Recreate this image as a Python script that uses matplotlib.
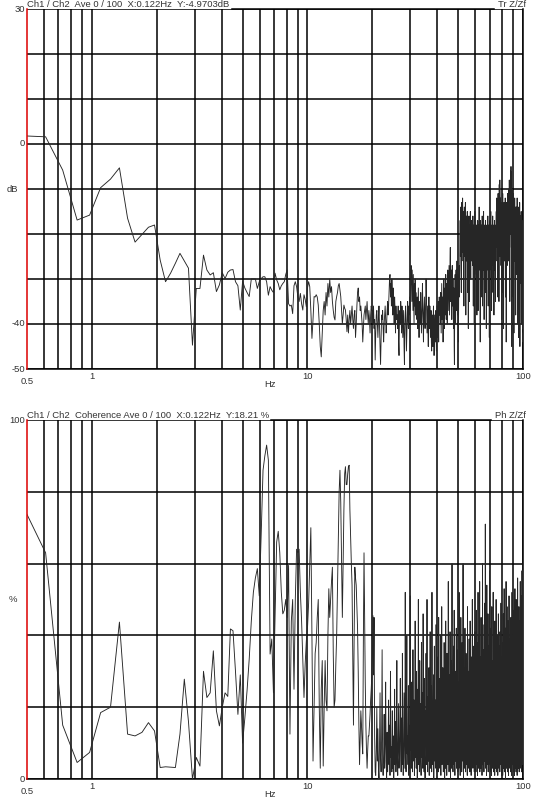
import numpy as np
import matplotlib.pyplot as plt
from matplotlib.ticker import FixedLocator

plt.rcParams['font.family'] = ['Liberation Sans', 'DejaVu Sans']

# analyser line spacing (Hz) and first line shown
df = 0.122
k_first = 4

# ---- transfer function Z/Zf, dB, one value per line ----
# lines 4..125 (0.49 - 15.3 Hz), read point by point
tr_db_low = [
    1.8, 1.6, -5.8, -16.9, -15.8, -9.7, -7.8, -5.3, -16.5, -21.8,
    -20.1, -18.5, -18, -25.8, -30.6, -28.7, -26.5, -24.3, -26, -27.6,
    -44.7, -32.1, -32.1, -24.7, -28, -29.1, -28.6, -32.8, -31.3, -28.6,
    -29.9, -28.5, -28, -27.9, -30.6, -31.5, -36.9, -30.5, -32, -33,
    -33.9, -30, -30, -30, -32.1, -30.6, -29.9, -29.5, -29.5, -30.6,
    -33.6, -31.7, -32.5, -33, -28.7, -30.2, -31, -32.4, -31.5, -31,
    -30.6, -29, -28, -35.5, -36, -35.8, -37.7, -31.5, -30.6, -31.7,
    -34, -35, -33.2, -35.5, -36.9, -33.5, -34.5, -36.2, -32, -30.6,
    -31.7, -37, -43.2, -39, -33.9, -34, -33.5, -34, -35.8, -40,
    -45, -47.3, -42, -37, -35, -38, -33, -36, -31, -34,
    -30, -33, -31.7, -35, -37, -38.5, -39.1, -35, -33.9, -33,
    -31.5, -31, -32.5, -33.9, -37, -39.9, -38, -35.8, -36.5, -36.9,
    -39, -41.7]
# 15 - 20 Hz
tr_db_15 = [-38, -42, -39, -37, -40, -38, -36, -39, -41, -38, -37, -43, -40, -36, -33, -32, -35, -34, -37, -36,
            -38, -40, -44, -41, -38, -37, -36, -39, -37, -35, -38, -40, -37, -39, -42, -38, -36, -37]
# 20 - 24 Hz
tr_db_20 = [-37, -40, -36, -41, -39, -48, -42, -38, -37, -40, -43, -39, -36, -41, -45, -49, -43, -38, -39, -37,
            -41, -44, -40, -38, -36, -39, -42, -40, -37, -35, -38, -36, -33]
# 24 - 26 Hz
tr_db_24 = [-30, -29, -34, -31, -36, -30, -33, -38, -32, -35, -40, -34, -37, -42, -36, -39, -38]
# 26 - 30 Hz
tr_db_26 = [-38, -41, -36, -44, -47, -39, -37, -40, -35, -38, -42, -36, -39, -43, -40, -37, -45, -49, -41, -38,
            -36, -40, -46, -42, -37, -35, -39, -41, -36, -38, -34, -37]
# 30 - 32 Hz
tr_db_30 = [-33, -30, -27, -31, -35, -28, -32, -37, -29, -34, -40, -31, -36, -30, -38, -33, -35]
# 32 - 41 Hz
tr_db_32 = [-36, -39, -34, -41, -37, -32, -38, -43, -36, -35, -40, -38, -33, -37, -42, -39, -36, -31, -35, -40,
            -44, -38, -36, -34, -39, -41, -37, -35, -30, -33, -38, -42, -39, -36, -40, -45, -37, -34, -38, -41,
            -36, -39, -43, -40, -37, -44, -46, -41, -38, -42, -45, -39, -36, -40, -47, -43, -38, -41, -44, -39,
            -37, -42, -46, -40, -36, -39, -43, -38, -35, -40, -44, -37, -34, -38]
# 41 - 51 Hz
tr_db_41 = [-38, -35, -40, -33, -37, -42, -36, -31, -35, -39, -34, -37, -44, -38, -33, -30, -36, -41, -35, -32,
            -38, -34, -29, -33, -39, -36, -31, -35, -40, -33, -28, -32, -37, -34, -30, -27, -33, -38, -31, -26,
            -23, -29, -35, -32, -28, -34, -39, -31, -27, -33, -36, -30, -35, -41, -37, -32, -45, -49, -38, -33,
            -29, -35, -40, -31, -28, -34, -37, -30, -26, -32, -38, -35, -29, -33, -44, -36, -30, -27, -34, -31, -28]
# 51 - 58 Hz
tr_db_51 = [-22, -17, -25, -19, -14, -21, -33, -18, -13, -20, -24, -16, -12, -19, -26, -21, -15, -23, -36, -18,
            -14, -22, -17, -25, -20, -13, -19, -38, -23, -16, -21, -26, -18, -24, -15, -20, -33, -22, -17, -41,
            -24, -19, -16, -23, -21, -35, -18, -25, -20, -15, -22, -30, -19, -24, -17, -21, -26, -23]
# 58 - 75 Hz
tr_db_58 = [-24, -19, -27, -21, -16, -23, -36, -20, -25, -18, -22, -40, -26, -19, -15, -24, -28, -21, -17, -25,
            -20, -29, -23, -18, -26, -38, -22, -19, -24, -17, -21, -27, -37, -23, -18, -25, -20, -14, -22, -28,
            -24, -19, -26, -44, -21, -17, -23, -29, -20, -25, -18, -22, -34, -24, -16, -21, -36, -26, -19, -23,
            -28, -20, -15, -24, -22, -39, -25, -18, -21, -27, -23, -19, -26, -17, -22, -33, -24, -20, -41, -25,
            -21, -18, -23, -28, -19, -25, -22, -16, -24, -36, -20, -26, -23, -18, -21, -27, -43, -24, -19, -22,
            -17, -25, -20, -28, -23, -15, -21, -26, -19, -24, -37, -22, -18, -25, -20, -27, -23, -16, -21, -33,
            -24, -19, -22, -26, -18, -38, -23, -20, -25, -17, -21, -28, -24, -19, -22, -35, -20, -23, -18]
# 75 - 93 Hz
tr_db_75 = [-20, -15, -23, -18, -12, -21, -26, -17, -14, -22, -19, -34, -16, -11, -20, -24, -18, -13, -21, -35,
            -17, -9, -15, -22, -19, -8, -14, -25, -20, -16, -12, -23, -18, -27, -15, -21, -13, -19, -39, -22,
            -16, -20, -14, -24, -18, -11, -17, -33, -21, -15, -19, -41, -23, -17, -13, -20, -26, -18, -22, -14,
            -19, -24, -16, -12, -21, -34, -17, -23, -15, -20, -44, -25, -18, -13, -22, -16, -19, -27, -14, -21,
            -17, -11, -23, -19, -15, -26, -20, -13, -18, -24, -10, -16, -22, -8, -14, -21, -17, -35, -12, -19,
            -15, -9, -20, -6, -13, -18, -5, -11, -16, -23, -7, -14, -45, -19, -12, -25, -17, -10, -21, -15,
            -13, -22, -18, -34, -14, -20, -11, -24, -16, -42, -19, -13, -21, -17, -26, -12, -18, -23, -15, -20,
            -14, -22, -19, -38, -16, -21, -18, -24]
# 93 - 100 Hz
tr_db_93 = [-18, -24, -14, -21, -29, -17, -23, -12, -20, -27, -16, -25, -19, -40, -22, -15, -26, -20, -43, -18,
            -23, -14, -28, -21, -17, -30, -24, -19, -13, -22, -45, -25, -18, -27, -20, -16, -24, -31, -21, -26,
            -19, -15, -23, -28, -20, -40, -25, -18, -22, -29, -17, -24, -41, -21, -27, -33, -44, -42]

# ---- coherence, % ----
# lines 4..165 (0.49 - 20.1 Hz)
coh_low = [
    75, 63, 15, 4.6, 7.4, 18.5, 20, 43.7, 12.5, 12,
    13, 15.7, 13.4, 3.2, 3.4, 3.3, 3.2, 12.5, 27.8, 16,
    0, 6, 3.6, 30, 22.7, 24, 35.7, 19, 14.8, 20,
    24, 23, 41.8, 41.3, 30, 18, 29, 10, 17, 24.6,
    33.4, 44, 52, 56, 58.6, 51, 68, 86, 90, 93,
    88.8, 34.8, 39, 24, 45, 66, 69, 63, 52, 46,
    47, 50, 45, 59.5, 12.5, 44, 50, 25, 50, 64,
    63, 64, 52, 44, 33, 22.7, 32, 38.5, 42, 49,
    60, 70, 40, 5, 20, 35, 38, 45, 50, 20,
    3, 25, 33, 3.6, 20, 33, 22, 19, 40, 53,
    45, 50, 55, 59, 35, 20, 22, 32, 40, 53,
    65, 80, 86, 77, 60, 45, 60, 75, 85, 87,
    82, 82, 85, 87, 87.4, 75, 67, 60, 54, 35,
    15, 40, 59, 56, 54, 48, 42, 30, 15, 4,
    12, 19, 15, 10, 7, 40, 63, 45, 27, 15,
    8, 3, 8, 12, 12, 15, 18, 22, 25, 29, 35, 45.5]
coh_20 = [29, 45, 12, 2, 1, 8, 20, 5, 14, 3, 0, 9, 24, 6, 2, 11, 36, 4, 1, 7, 18, 3, 10, 27, 5, 0, 13, 2, 8, 22,
          4, 15, 1, 30, 6, 9, 2, 19, 3, 12, 0, 7, 25, 4, 16, 2, 9, 33, 5, 1, 11, 21, 3, 6, 14, 28, 8, 2, 17, 4,
          35, 10, 1, 6, 24, 13, 3, 52, 9, 2, 18, 40, 7, 12, 4, 26, 1, 15, 8, 3]
coh_30 = [51, 8, 19, 3, 27, 11, 2, 36, 14, 5, 22, 1, 9, 44, 6, 17, 3, 30, 12, 0, 25, 7, 50, 4, 15, 2, 33, 10, 21, 5,
          1, 38, 13, 6, 24, 3, 46, 9, 16, 2, 28, 7, 0, 19, 11, 35, 4, 14, 50, 8, 2, 23, 12, 5, 31, 1, 18, 9, 41, 3,
          26, 6, 15, 2, 52, 10, 20, 4, 13, 29, 0, 8, 37, 16, 5, 22, 11, 3, 43, 7, 17, 2]
coh_40 = [12, 34, 5, 21, 2, 45, 9, 17, 28, 3, 14, 40, 7, 1, 25, 11, 48, 4, 19, 6, 31, 13, 2, 22, 8, 38, 16, 0, 27, 10,
          3, 44, 15, 6, 20, 1, 35, 9, 24, 4, 13, 55, 7, 18, 2, 29, 11, 5, 41, 14, 0, 23, 8, 33, 3, 17, 60, 10, 26, 6,
          2, 19, 37, 12, 4, 47, 21, 9, 1, 30, 15, 5, 25, 8, 42, 3, 16, 11, 36, 7, 20, 2]
coh_50 = [8, 27, 14, 3, 52, 19, 6, 33, 11, 1, 24, 9, 45, 4, 16, 29, 2, 13, 38, 7, 21, 5, 60, 12, 0, 18, 31, 9, 3, 25,
          15, 42, 6, 20, 2, 11, 35, 8, 17, 4, 28, 13, 1, 48, 10, 23, 5, 30, 14, 3, 19, 39, 7, 26, 2, 12, 44, 9, 16, 6,
          22, 1, 34, 11, 4, 27, 15, 50, 8, 18, 3, 24, 10, 37, 5, 13, 29, 2, 21, 7, 41, 12]
coh_60 = [20, 6, 33, 14, 2, 47, 11, 25, 4, 38, 9, 17, 1, 29, 13, 52, 7, 22, 3, 40, 16, 5, 27, 10, 55, 2, 19, 34, 8, 14,
          24, 3, 45, 12, 6, 31, 18, 1, 26, 9, 60, 15, 4, 21, 36, 7, 11, 28, 2, 43, 17, 5, 30, 13, 49, 8, 71, 23, 3, 16,
          39, 10, 25, 1, 18, 54, 6, 14, 33, 4, 27, 12, 46, 2, 20, 9, 37, 15, 5, 24, 11, 58]
coh_70 = [9, 30, 4, 17, 42, 11, 2, 25, 7, 36, 14, 1, 21, 48, 6, 13, 28, 3, 19, 10, 33, 5, 52, 15, 8, 23, 2, 39, 12, 4,
          26, 18, 1, 44, 9, 16, 6, 31, 3, 22, 11, 50, 7, 27, 14, 2, 35, 10, 20, 5, 40, 13, 1, 24, 8, 17, 46, 4, 29, 12,
          3, 19, 37, 6, 15, 25, 2, 41, 11, 8, 32, 16, 4, 21, 49, 7, 13, 28, 1, 34, 10, 18]
coh_80 = [22, 5, 38, 13, 1, 27, 9, 46, 16, 3, 31, 11, 20, 6, 53, 14, 2, 24, 8, 35, 17, 4, 42, 12, 0, 29, 10, 19, 55, 7,
          15, 33, 3, 23, 11, 48, 6, 18, 2, 37, 13, 26, 5, 44, 9, 16, 1, 30, 21, 8, 51, 12, 4, 25, 14, 39, 3, 19, 10, 34,
          6, 28, 15, 2, 45, 11, 20, 7, 36, 17, 1, 24, 9, 52, 13, 4, 31, 18, 6, 40, 12, 27]
coh_90 = [4, 35, 16, 2, 47, 11, 25, 7, 39, 14, 1, 29, 20, 8, 53, 12, 3, 33, 18, 6, 43, 10, 24, 2, 50, 15, 5, 37, 13, 27,
          9, 45, 1, 22, 17, 4, 56, 11, 30, 7, 19, 41, 3, 26, 14, 8, 48, 12, 34, 2, 21, 16, 44, 6, 28, 10, 38, 3, 55, 15,
          24, 5, 47, 18, 9, 32, 13, 51, 2, 26, 11, 40, 7, 58, 19, 4, 36, 14, 45, 8, 22, 49, 60]

top_title = 'Ch1 / Ch2  Ave 0 / 100  X:0.122Hz  Y:-4.9703dB'
top_tag = 'Tr Z/Zf'
bot_title = 'Ch1 / Ch2  Coherence Ave 0 / 100  X:0.122Hz  Y:18.21 %'
bot_tag = 'Ph Z/Zf'

tr_db = np.concatenate([tr_db_low, tr_db_15, tr_db_20, tr_db_24, tr_db_26, tr_db_30,
                        tr_db_32, tr_db_41, tr_db_51, tr_db_58, tr_db_75, tr_db_93])
coh = np.concatenate([coh_low, coh_20, coh_30, coh_40, coh_50, coh_60, coh_70, coh_80, coh_90])
f_tr = df * (k_first + np.arange(len(tr_db)))
f_coh = df * (k_first + np.arange(len(coh)))

FS = 6.8
TXT = '#333333'
LINE = '#262626'
W, H = 533, 801
PT = 0.72  # points per pixel at 100 dpi

fig = plt.figure(figsize=(W / 100, H / 100), dpi=100)
ax1 = fig.add_axes([27 / W, 1 - 369 / H, 496 / W, 360 / H])
ax2 = fig.add_axes([27 / W, 1 - 779 / H, 496 / W, 359 / H])

minor = [m * d for d in (0.1, 1, 10) for m in range(2, 10) if m * d > 0.5]


def frame(ax, ylim, ystep, top_seg):
    ax.set_xscale('log')
    ax.set_xlim(0.5, 100)
    ax.set_ylim(*ylim)
    ax.xaxis.set_major_locator(FixedLocator([1, 10, 100]))
    ax.xaxis.set_minor_locator(FixedLocator(minor))
    ax.yaxis.set_major_locator(FixedLocator(np.arange(ylim[0], ylim[1] + 1, ystep)))
    ax.tick_params(which='both', length=0, labelbottom=False, labelleft=False)
    ax.grid(which='both', axis='x', color='k', lw=1.1)
    ax.grid(which='major', axis='y', color='k', lw=1.1)
    ax.spines['top'].set_visible(False)
    for s in ('bottom', 'right'):
        ax.spines[s].set_color('k')
        ax.spines[s].set_linewidth(1.1)
    ax.spines['left'].set_color('#dd0000')
    ax.spines['left'].set_linewidth(1.1)
    ax.spines['left'].set_zorder(5)
    # top border only where no header text sits
    ax.axhline(ylim[1], xmin=top_seg[0], xmax=top_seg[1], color='k', lw=1.1, clip_on=False)


def ylab(ax, y, s, dx=-1.5, ha='right'):
    ax.annotate(s, (0, y), xycoords=ax.get_yaxis_transform(), xytext=(dx, 0),
                textcoords='offset points', ha=ha, va='center', fontsize=FS, color=TXT)


def xlab(ax, x, s, dy):
    ax.annotate(s, (x, 0), xycoords=ax.get_xaxis_transform(), xytext=(0, -dy * PT),
                textcoords='offset points', ha='center', va='top', fontsize=FS, color=TXT)


def header(ax, title, tag):
    ax.annotate(title, (0, 1), xycoords='axes fraction', xytext=(0, 1.2),
                textcoords='offset points', ha='left', va='baseline', fontsize=FS, color=TXT)
    ax.annotate(tag, (1, 1), xycoords='axes fraction', xytext=(3 * PT, 1.2),
                textcoords='offset points', ha='right', va='baseline', fontsize=FS, color=TXT)


# transfer function
frame(ax1, (-50, 30), 10, (0.413, 0.9425))
ax1.plot(f_tr, tr_db, color=LINE, lw=0.65, zorder=3)
header(ax1, top_title, top_tag)
ylab(ax1, 30, '30')
ylab(ax1, 0, '0')
ylab(ax1, -10, 'dB', dx=-15 * PT, ha='center')
ylab(ax1, -40, '-40')
ylab(ax1, -50, '-50')

# coherence
frame(ax2, (0, 100), 20, (0.492, 0.935))
ax2.plot(f_coh, coh, color=LINE, lw=0.65, zorder=3)
header(ax2, bot_title, bot_tag)
ylab(ax2, 100, '100')
ylab(ax2, 50, '%', dx=-14 * PT, ha='center')
ylab(ax2, 0, '0')

for ax in (ax1, ax2):
    xlab(ax, 0.5, '0.5', 8)
    xlab(ax, 1, '1', 3)
    xlab(ax, 10, '10', 3)
    xlab(ax, 100, '100', 3)
    ax.annotate('Hz', (0.49, 0), xycoords='axes fraction', xytext=(0, -11 * PT),
                textcoords='offset points', ha='center', va='top', fontsize=FS, color=TXT)

fig.savefig('out.png', dpi=100)
